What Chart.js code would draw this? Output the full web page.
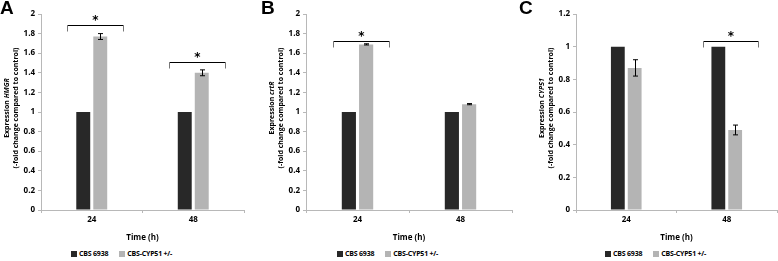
<!DOCTYPE html>
<html>
<head>
<meta charset="utf-8">
<script src="https://cdn.jsdelivr.net/npm/chart.js@4"></script>
<style>
  body { margin: 0; background: #fff; width: 778px; height: 261px; overflow: hidden; position: relative; font-family: "Open Sans", Lato, sans-serif; }
  .panel { position: absolute; top: 0; height: 245px; }
  .letter { position: absolute; top: -3px; font: bold 19px "Liberation Sans", Arial, sans-serif; color: #000; }
  .legend { position: absolute; top: 249px; font: bold 7px "Open Sans", sans-serif; color: #000; white-space: nowrap; letter-spacing: -0.2px; }
  .legend span.box { display: inline-block; width: 6px; height: 6px; margin-right: 2px; vertical-align: -0.5px; }
  .legend span.item { margin-right: 11px; }
</style>
</head>
<body>
<div class="panel" id="pA" style="left:0;width:250px"><canvas id="cA"></canvas></div>
<div class="panel" id="pB" style="left:265px;width:253px"><canvas id="cB"></canvas></div>
<div class="panel" id="pC" style="left:535px;width:243px"><canvas id="cC"></canvas></div>
<div class="letter" style="left:0">A</div>
<div class="letter" style="left:261px">B</div>
<div class="letter" style="left:519px">C</div>
<div class="legend" style="left:71px" id="lA"></div>
<div class="legend" style="left:337px" id="lB"></div>
<div class="legend" style="left:605px" id="lC"></div>
<script>
const timepoints = ["24", "48"];
const seriesNames = ["CBS 6938", "CBS-CYP51 +/-"];
const seriesColors = ["#282828", "#b4b4b4"];

const hmgrWild = [1, 1];
const hmgrMutant = [1.77, 1.40];
const hmgrError = [0.03, 0.03];
const hmgrSignificant = [0, 1];
const hmgrBracketLevel = [1.89, 1.51];

const crtrWild = [1, 1];
const crtrMutant = [1.69, 1.08];
const crtrError = [0.006, 0.006];
const crtrSignificant = [0];
const crtrBracketLevel = [1.72];

const cyp51Wild = [1, 1];
const cyp51Mutant = [0.87, 0.49];
const cyp51Error = [0.05, 0.03];
const cyp51Significant = [1];
const cyp51BracketLevel = [1.035];

const fontName = "'Open Sans', Lato, sans-serif";
const axisGray = "#b8b8b8";

const errorAndBracketPlugin = {
  id: "errorAndBracket",
  afterDatasetsDraw(chart, args, opts) {
    const ctx = chart.ctx;
    const y = chart.scales.y;
    const x = chart.scales.x;
    const meta = chart.getDatasetMeta(1);
    ctx.save();
    ctx.strokeStyle = "#000";
    ctx.lineWidth = 1;
    opts.errors.forEach((e, i) => {
      const bar = meta.data[i];
      const v = chart.data.datasets[1].data[i];
      const cx = Math.round(bar.x) + 0.5;
      const top = y.getPixelForValue(v + e);
      const bot = y.getPixelForValue(v - e);
      ctx.beginPath();
      ctx.moveTo(cx, top); ctx.lineTo(cx, bot);
      ctx.moveTo(cx - 2.5, top); ctx.lineTo(cx + 2.5, top);
      ctx.moveTo(cx - 2.5, bot); ctx.lineTo(cx + 2.5, bot);
      ctx.stroke();
    });
    const catW = x.getPixelForValue(1) - x.getPixelForValue(0);
    opts.significant.forEach((idx, k) => {
      const c = x.getPixelForValue(idx);
      const x0 = Math.round(c - 0.24 * catW) + 0.5;
      const x1 = Math.round(c + 0.31 * catW) + 0.5;
      const yy = Math.round(y.getPixelForValue(opts.levels[k])) + 0.5;
      ctx.strokeStyle = "#000";
      ctx.beginPath();
      ctx.moveTo(x0, yy); ctx.lineTo(x1, yy);
      ctx.stroke();
      ctx.strokeStyle = "#777";
      ctx.beginPath();
      ctx.moveTo(x0, yy); ctx.lineTo(x0, yy + 6);
      ctx.moveTo(x1, yy); ctx.lineTo(x1, yy + 6);
      ctx.stroke();
      ctx.fillStyle = "#000";
      ctx.font = "bold 12px 'DejaVu Sans', sans-serif";
      ctx.textAlign = "center";
      ctx.textBaseline = "middle";
      ctx.fillText("*", (x0 + x1) / 2, yy - 5);
    });
    ctx.restore();
  },
  afterDraw(chart, args, opts) {
    const ctx = chart.ctx;
    const area = chart.chartArea;
    const cy = (area.top + area.bottom) / 2 - 4;
    ctx.save();
    ctx.fillStyle = "#000";
    ctx.textBaseline = "middle";
    ctx.textAlign = "left";
    ctx.translate(area.left - 34, cy);
    ctx.rotate(-Math.PI / 2);
    const f1 = "bold 7px " + fontName;
    const f2 = "italic bold 7px " + fontName;
    ctx.font = f1;
    const w1 = ctx.measureText("Expression ").width;
    ctx.font = f2;
    const w2 = ctx.measureText(opts.gene).width;
    const sx = -(w1 + w2) / 2;
    ctx.font = f1;
    ctx.fillText("Expression ", sx, 0);
    ctx.font = f2;
    ctx.fillText(opts.gene, sx + w1, 0);
    ctx.restore();
    ctx.save();
    ctx.fillStyle = "#000";
    ctx.textBaseline = "middle";
    ctx.textAlign = "center";
    ctx.translate(area.left - 25, cy);
    ctx.rotate(-Math.PI / 2);
    ctx.font = "bold 7px " + fontName;
    ctx.fillText("(-fold change compared to control)", 0, 0);
    ctx.restore();
  }
};

function makeChart(canvasId, wild, mutant, errors, significant, levels, gene, yMax, padRight) {
  new Chart(document.getElementById(canvasId), {
    type: "bar",
    plugins: [errorAndBracketPlugin],
    data: {
      labels: timepoints,
      datasets: [
        { label: seriesNames[0], data: wild, backgroundColor: seriesColors[0] },
        { label: seriesNames[1], data: mutant, backgroundColor: seriesColors[1] },
      ],
    },
    options: {
      responsive: true,
      maintainAspectRatio: false,
      animation: false,
      layout: { padding: { top: 14, right: padRight, left: 0, bottom: 0 } },
      datasets: { bar: { barPercentage: 0.82, categoryPercentage: 0.335 } },
      plugins: {
        legend: { display: false },
        tooltip: { enabled: false },
        errorAndBracket: { errors: errors, significant: significant, levels: levels, gene: gene },
      },
      scales: {
        x: {
          offset: true,
          afterFit: (s) => { s.height = 33; },
          grid: { display: true, drawOnChartArea: false, offset: true, tickLength: 3, color: axisGray },
          border: { color: axisGray },
          ticks: { color: "#000", font: { family: fontName, size: 8, weight: "bold" }, padding: 2 },
          title: { display: true, text: "Time (h)", color: "#000", font: { family: fontName, size: 8, weight: "bold" }, padding: { top: 4, bottom: 0 } },
        },
        y: {
          min: 0,
          max: yMax,
          afterFit: (s) => { s.width = 41; },
          grid: { display: true, drawOnChartArea: false, tickLength: 3, color: axisGray },
          border: { color: axisGray },
          ticks: {
            stepSize: 0.2,
            color: "#000",
            font: { family: fontName, size: 8, weight: "bold" },
            padding: 3,
            callback: (v) => String(Number(v.toFixed(1))),
          },
        },
      },
    },
  });
}

function makeLegend(id) {
  const el = document.getElementById(id);
  el.innerHTML = seriesNames.map((n, i) =>
    '<span class="item"><span class="box" style="background:' + seriesColors[i] + '"></span>' + n + '</span>').join("");
}

// panels are 245px tall; chart area bottom is kept at y=212 by the x-scale height
document.querySelectorAll(".panel").forEach((p) => { p.style.height = "243px"; });

makeChart("cA", hmgrWild, hmgrMutant, hmgrError, hmgrSignificant, hmgrBracketLevel, "HMGR", 2, 6);
makeChart("cB", crtrWild, crtrMutant, crtrError, crtrSignificant, crtrBracketLevel, "crtR", 2, 6);
makeChart("cC", cyp51Wild, cyp51Mutant, cyp51Error, cyp51Significant, cyp51BracketLevel, "CYP51", 1.2, 1);
["lA", "lB", "lC"].forEach(makeLegend);
</script>
</body>
</html>
